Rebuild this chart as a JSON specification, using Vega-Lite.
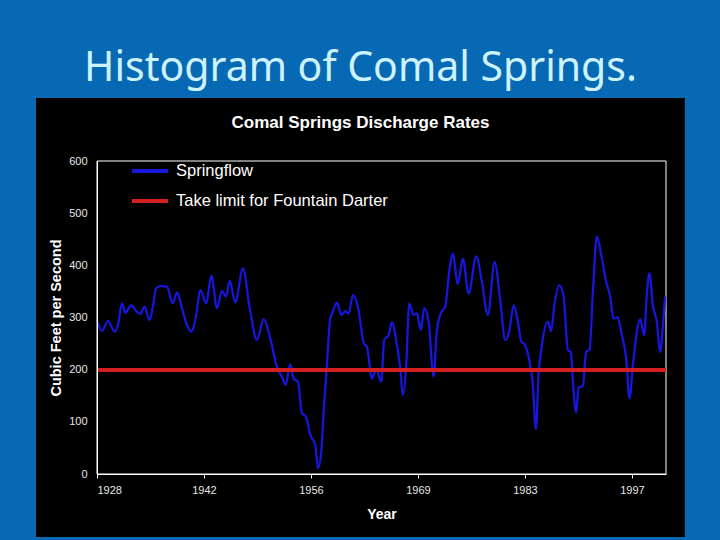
{
  "$schema": "https://vega.github.io/schema/vega-lite/v6.json",
  "width": 569,
  "height": 313,
  "autosize": {"type": "none"},
  "padding": {"left": 97, "top": 161, "right": 54, "bottom": 66},
  "background": "#0769b3",
  "title": {
    "text": "Histogram of Comal Springs.",
    "subtitle": "Comal Springs Discharge Rates",
    "anchor": "middle",
    "dx": -21,
    "font": "Noto Sans",
    "fontSize": 41,
    "fontWeight": "normal",
    "color": "#cdf3ff",
    "subtitleFont": "Liberation Sans",
    "subtitleFontSize": 17,
    "subtitleFontWeight": "bold",
    "subtitleColor": "white",
    "subtitlePadding": 25,
    "offset": -34
  },
  "config": {"view": {"stroke": null}},
  "data": {"values": [
    {"year": 1928.13, "cfs": 290}, {"year": 1928.64, "cfs": 274}, {"year": 1929.42, "cfs": 293}, {"year": 1930.28, "cfs": 273},
    {"year": 1930.71, "cfs": 286}, {"year": 1931.22, "cfs": 327}, {"year": 1931.65, "cfs": 309}, {"year": 1932.42, "cfs": 323},
    {"year": 1933.16, "cfs": 311}, {"year": 1933.58, "cfs": 307}, {"year": 1934.15, "cfs": 321}, {"year": 1934.75, "cfs": 295},
    {"year": 1935.18, "cfs": 318}, {"year": 1935.61, "cfs": 355}, {"year": 1936.16, "cfs": 360}, {"year": 1937.03, "cfs": 359},
    {"year": 1937.76, "cfs": 327}, {"year": 1938.32, "cfs": 348}, {"year": 1938.96, "cfs": 318}, {"year": 1939.52, "cfs": 289},
    {"year": 1940.16, "cfs": 273}, {"year": 1940.81, "cfs": 305}, {"year": 1941.32, "cfs": 353}, {"year": 1942.10, "cfs": 327},
    {"year": 1942.74, "cfs": 380}, {"year": 1943.48, "cfs": 318}, {"year": 1944.12, "cfs": 351}, {"year": 1944.64, "cfs": 340},
    {"year": 1945.11, "cfs": 370}, {"year": 1945.84, "cfs": 329}, {"year": 1946.83, "cfs": 394}, {"year": 1947.69, "cfs": 319},
    {"year": 1948.63, "cfs": 257}, {"year": 1949.50, "cfs": 297}, {"year": 1950.35, "cfs": 260}, {"year": 1951.30, "cfs": 201},
    {"year": 1951.86, "cfs": 187}, {"year": 1952.34, "cfs": 171}, {"year": 1952.93, "cfs": 210}, {"year": 1953.37, "cfs": 183},
    {"year": 1953.92, "cfs": 177}, {"year": 1954.44, "cfs": 116}, {"year": 1954.95, "cfs": 110}, {"year": 1955.51, "cfs": 75},
    {"year": 1956.15, "cfs": 56}, {"year": 1956.50, "cfs": 11}, {"year": 1956.93, "cfs": 43}, {"year": 1957.24, "cfs": 119},
    {"year": 1957.66, "cfs": 209}, {"year": 1958.09, "cfs": 298}, {"year": 1958.40, "cfs": 310}, {"year": 1958.95, "cfs": 329},
    {"year": 1959.51, "cfs": 305}, {"year": 1960.02, "cfs": 312}, {"year": 1960.46, "cfs": 308}, {"year": 1961.02, "cfs": 343},
    {"year": 1961.75, "cfs": 314}, {"year": 1962.40, "cfs": 251}, {"year": 1962.82, "cfs": 244}, {"year": 1963.47, "cfs": 183},
    {"year": 1964.02, "cfs": 201}, {"year": 1964.67, "cfs": 177}, {"year": 1965.05, "cfs": 257}, {"year": 1965.62, "cfs": 266},
    {"year": 1966.04, "cfs": 291}, {"year": 1966.69, "cfs": 247}, {"year": 1967.12, "cfs": 203}, {"year": 1967.46, "cfs": 151},
    {"year": 1967.89, "cfs": 209}, {"year": 1968.28, "cfs": 327}, {"year": 1968.84, "cfs": 305}, {"year": 1969.27, "cfs": 308},
    {"year": 1969.78, "cfs": 276}, {"year": 1970.21, "cfs": 318}, {"year": 1970.78, "cfs": 292}, {"year": 1971.42, "cfs": 187},
    {"year": 1971.85, "cfs": 276}, {"year": 1972.36, "cfs": 308}, {"year": 1972.92, "cfs": 321}, {"year": 1973.49, "cfs": 394},
    {"year": 1973.91, "cfs": 423}, {"year": 1974.52, "cfs": 364}, {"year": 1975.20, "cfs": 413}, {"year": 1975.94, "cfs": 346},
    {"year": 1976.92, "cfs": 417}, {"year": 1977.65, "cfs": 369}, {"year": 1978.42, "cfs": 305}, {"year": 1979.29, "cfs": 406},
    {"year": 1980.01, "cfs": 334}, {"year": 1980.66, "cfs": 257}, {"year": 1981.17, "cfs": 273}, {"year": 1981.74, "cfs": 323},
    {"year": 1982.29, "cfs": 292}, {"year": 1982.72, "cfs": 255}, {"year": 1983.24, "cfs": 247}, {"year": 1983.75, "cfs": 219},
    {"year": 1984.19, "cfs": 177}, {"year": 1984.62, "cfs": 86}, {"year": 1984.96, "cfs": 190}, {"year": 1985.39, "cfs": 247},
    {"year": 1986.16, "cfs": 292}, {"year": 1986.59, "cfs": 274}, {"year": 1987.03, "cfs": 327}, {"year": 1987.62, "cfs": 362},
    {"year": 1988.19, "cfs": 340}, {"year": 1988.74, "cfs": 238}, {"year": 1989.13, "cfs": 233}, {"year": 1989.39, "cfs": 177},
    {"year": 1989.81, "cfs": 118}, {"year": 1990.12, "cfs": 165}, {"year": 1990.68, "cfs": 169}, {"year": 1991.10, "cfs": 234},
    {"year": 1991.54, "cfs": 238}, {"year": 1991.97, "cfs": 349}, {"year": 1992.48, "cfs": 455}, {"year": 1993.13, "cfs": 413},
    {"year": 1993.68, "cfs": 369}, {"year": 1994.20, "cfs": 340}, {"year": 1994.63, "cfs": 298}, {"year": 1995.15, "cfs": 300},
    {"year": 1995.71, "cfs": 266}, {"year": 1996.26, "cfs": 222}, {"year": 1996.69, "cfs": 145}, {"year": 1997.13, "cfs": 209},
    {"year": 1997.64, "cfs": 273}, {"year": 1998.07, "cfs": 297}, {"year": 1998.58, "cfs": 266}, {"year": 1998.93, "cfs": 346},
    {"year": 1999.28, "cfs": 385}, {"year": 1999.70, "cfs": 324}, {"year": 2000.22, "cfs": 292}, {"year": 2000.65, "cfs": 234},
    {"year": 2001.09, "cfs": 302}, {"year": 2001.29, "cfs": 340}
  ]},
  "layer": [
    {
      "data": {"values": [{}]},
      "mark": {"type": "rect", "color": "black"},
      "encoding": {
        "x": {
          "datum": 1920.13, "type": "quantitative",
          "scale": {"domain": [1928, 2001.4], "nice": false, "zero": false},
          "axis": {
            "title": "Year", "values": [1928, 1941.8, 1955.6, 1969.4, 1983.2, 1997],
            "labelExpr": "'' + round(datum.value)", "grid": false, "zindex": 1,
            "domainColor": "white", "tickColor": "white", "tickSize": 4,
            "labelColor": "#e6e6e6", "labelFont": "Liberation Sans", "labelFontSize": 11, "labelPadding": 6,
            "titleColor": "white", "titleFont": "Liberation Sans", "titleFontSize": 14, "titleFontWeight": "bold", "titlePadding": 12
          }
        },
        "x2": {"datum": 2003.83},
        "y": {
          "datum": -120.8, "type": "quantitative",
          "scale": {"domain": [0, 600], "nice": false},
          "axis": {
            "title": "Cubic Feet per Second", "values": [0, 100, 200, 300, 400, 500, 600], "grid": false, "ticks": false, "zindex": 1,
            "domainColor": "white", "labelColor": "#e6e6e6", "labelFont": "Liberation Sans", "labelFontSize": 11, "labelPadding": 10,
            "titleColor": "white", "titleFont": "Liberation Sans", "titleFontSize": 14.5, "titleFontWeight": "bold", "titlePadding": 5
          }
        },
        "y2": {"datum": 720.7}
      }
    },
    {
      "data": {"values": [{}]},
      "mark": {"type": "rect", "filled": false, "stroke": "white", "strokeWidth": 1},
      "encoding": {
        "x": {"datum": 1928, "type": "quantitative"},
        "x2": {"datum": 2001.4},
        "y": {"datum": 0, "type": "quantitative"},
        "y2": {"datum": 600}
      }
    },
    {
      "mark": {"type": "line", "strokeWidth": 2.3, "interpolate": "monotone"},
      "encoding": {
        "x": {"field": "year", "type": "quantitative", "title": "Year"},
        "y": {"field": "cfs", "type": "quantitative", "title": "Cubic Feet per Second"},
        "color": {
          "datum": "Springflow", "type": "nominal",
          "scale": {"domain": ["Springflow", "Take limit for Fountain Darter"], "range": ["#1616dc", "#d42020"]},
          "legend": {
            "orient": "none", "legendX": 33, "legendY": -10, "title": null, "zindex": 2,
            "symbolType": "stroke", "symbolSize": 1296, "symbolStrokeWidth": 4,
            "labelColor": "white", "labelFont": "Liberation Sans", "labelFontSize": 16.5, "labelOffset": 6, "labelLimit": 0,
            "rowPadding": 1, "padding": 0
          }
        }
      }
    },
    {
      "mark": {"type": "rule", "strokeWidth": 3},
      "encoding": {
        "y": {"datum": 200, "type": "quantitative"},
        "color": {"datum": "Take limit for Fountain Darter", "type": "nominal"}
      }
    }
  ]
}
